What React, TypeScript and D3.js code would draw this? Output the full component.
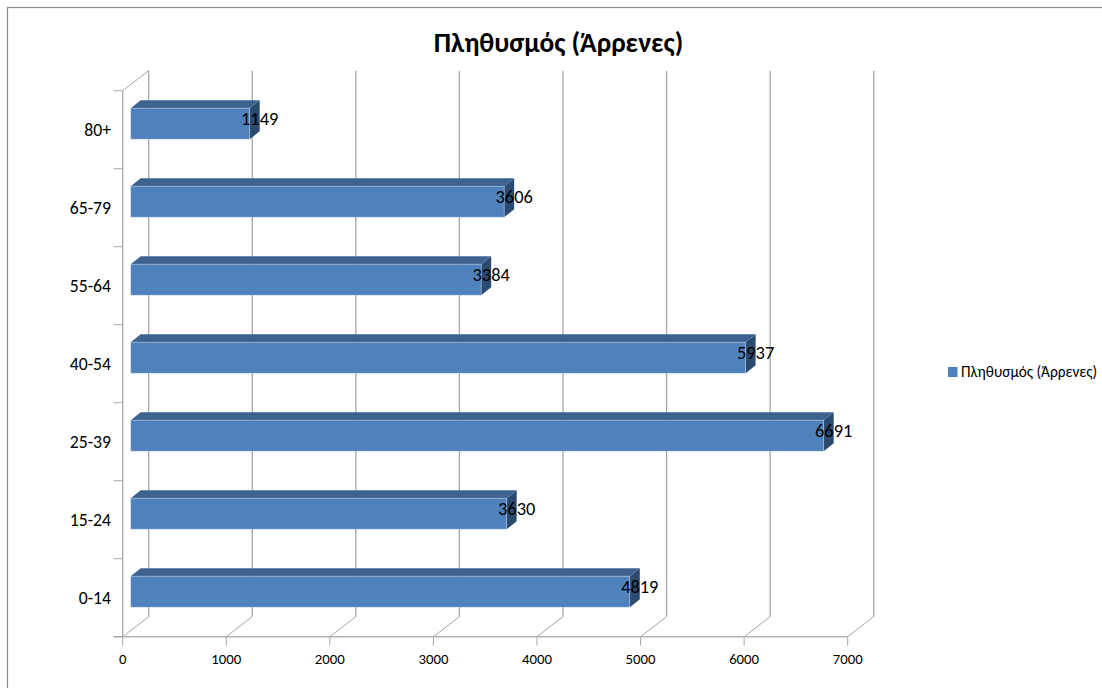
import React from "react";
import * as d3 from "d3";

const ageGroups = ["0-14", "15-24", "25-39", "40-54", "55-64", "65-79", "80+"];
const malePopulation = [4819, 3630, 6691, 5937, 3384, 3606, 1149];
const xTicks = [0, 1000, 2000, 3000, 4000, 5000, 6000, 7000];
const chartTitle = "Πληθυσμός (Άρρενες)";

const FONT = "Carlito, Lato, 'Open Sans', sans-serif";

// Front plane of the pseudo-3D plot box, and the shift to its back plane.
const x = d3.scaleLinear().domain([0, 7000]).range([122.7, 847.7]);
const y = d3.scaleBand().domain(ageGroups).range([636.7, 90.7]);
const DEPTH_X = 26;
const DEPTH_Y = -20;

// Bars sit part-way into the box and have their own shallower depth.
const BAR_INSET_X = 8;
const BAR_DX = 10;
const BAR_DY = -8;
const BAR_H = 31;
const BAR_TOP = 17.5;

const GRID = "#a6a6a6";
const AXIS = "#b3b3b3";

export default function App() {
  const yTickPositions = [...ageGroups.map((g) => (y(g) as number) + y.bandwidth()), y.range()[1]];
  const poly = (pts: number[][]) => pts.map((p) => p.join(",")).join(" ");
  return (
    <svg
      width={1102}
      height={688}
      viewBox="0 0 1102 688"
      style={{ position: "absolute", left: 0, top: 0, display: "block", background: "#fff" }}
    >
      <rect x={7.5} y={7.5} width={1200} height={800} fill="#fff" stroke="#8c8c8c" strokeWidth={1.2} />
      <text x={558.5} y={52} textAnchor="middle" fontFamily={FONT} fontSize={27.4} fontWeight={700} fill="#000">
        {chartTitle}
      </text>

      {/* Walls: gridlines on the back plane with diagonals to the floor */}
      {xTicks.map((t) => (
        <g key={t} stroke={GRID} fill="none">
          <line x1={x(t) + DEPTH_X} x2={x(t) + DEPTH_X} y1={y.range()[1] + DEPTH_Y} y2={y.range()[0] + DEPTH_Y} strokeWidth={1.3} />
          <line x1={x(t)} x2={x(t) + DEPTH_X} y1={y.range()[0]} y2={y.range()[0] + DEPTH_Y} />
          <line x1={x(t)} x2={x(t)} y1={y.range()[0]} y2={y.range()[0] + 9} />
        </g>
      ))}
      <line x1={x(0)} x2={x(0) + DEPTH_X} y1={y.range()[1]} y2={y.range()[1] + DEPTH_Y} stroke={GRID} />
      <line x1={x(0)} x2={x(0)} y1={y.range()[1]} y2={y.range()[0]} stroke={GRID} strokeWidth={1.3} />
      <line x1={x(0) - 9} x2={x(7000)} y1={y.range()[0]} y2={y.range()[0]} stroke={AXIS} strokeWidth={1.4} />
      {yTickPositions.map((p) => (
        <line key={p} x1={x(0) - 9} x2={x(0)} y1={p} y2={p} stroke={GRID} />
      ))}

      {/* Bars: side, top and front faces */}
      {ageGroups.map((g, i) => {
        const v = malePopulation[i];
        const left = x(0) + BAR_INSET_X;
        const right = x(v) + BAR_INSET_X;
        const top = (y(g) as number) + BAR_TOP;
        const bottom = top + BAR_H;
        return (
          <g key={g}>
            <polygon
              points={poly([[right, top], [right + BAR_DX, top + BAR_DY], [right + BAR_DX, bottom + BAR_DY], [right, bottom]])}
              fill="#2b4a6f"
            />
            <polygon
              points={poly([[left, top], [left + BAR_DX, top + BAR_DY], [right + BAR_DX, top + BAR_DY], [right, top]])}
              fill="#3d628f"
            />
            <rect x={left} y={top} width={right - left} height={BAR_H} fill="#4f81bd" stroke="#dce6f2" strokeOpacity={0.45} strokeWidth={0.8} />
          </g>
        );
      })}

      {/* Value labels straddle the end of each bar */}
      {ageGroups.map((g, i) => (
        <text
          key={g}
          x={x(malePopulation[i]) + BAR_INSET_X + 10}
          y={(y(g) as number) + BAR_TOP + 16.7}
          textAnchor="middle"
          fontFamily={FONT}
          fontSize={18.4}
          fill="#000"
        >
          {malePopulation[i]}
        </text>
      ))}

      {ageGroups.map((g) => (
        <text
          key={g}
          x={111}
          y={(y(g) as number) + y.bandwidth() / 2 + 6.3}
          textAnchor="end"
          fontFamily={FONT}
          fontSize={17.7}
          fill="#000"
        >
          {g}
        </text>
      ))}

      {xTicks.map((t) => (
        <text key={t} x={x(t)} y={664.3} textAnchor="middle" fontFamily={FONT} fontSize={14.8} fill="#000">
          {t}
        </text>
      ))}

      {/* Legend */}
      <rect x={948} y={367} width={9.5} height={10} fill="#4f81bd" />
      <text x={961} y={377} fontFamily={FONT} fontSize={15.3} fill="#000">
        {chartTitle}
      </text>
    </svg>
  );
}
